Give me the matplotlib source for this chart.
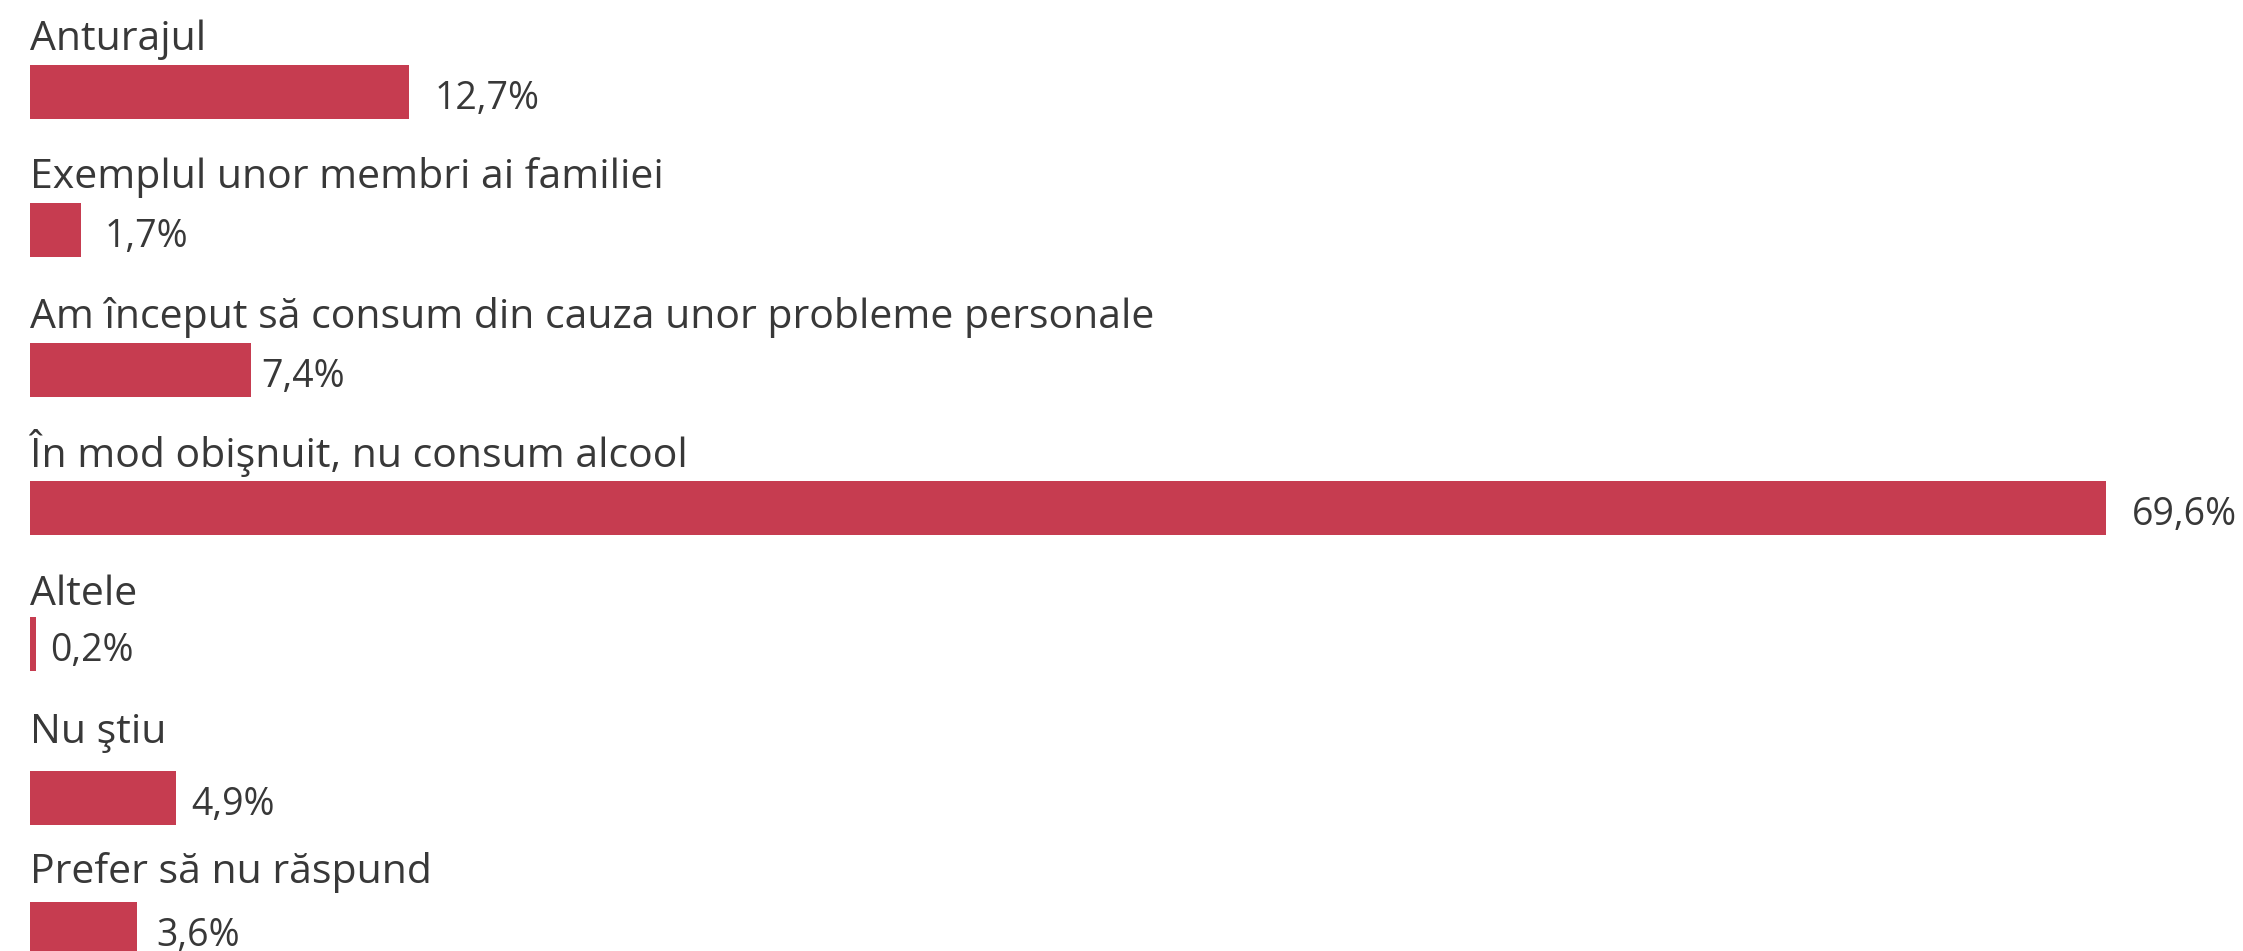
import matplotlib
matplotlib.use("Agg")
import matplotlib.pyplot as plt

# ---- data ----
categories = [
    "Anturajul",
    "Exemplul unor membri ai familiei",
    "Am început să consum din cauza unor probleme personale",
    "În mod obişnuit, nu consum alcool",
    "Altele",
    "Nu ştiu",
    "Prefer să nu răspund",
]
values = [12.7, 1.7, 7.4, 69.6, 0.2, 4.9, 3.6]
value_labels = ["12,7%", "1,7%", "7,4%", "69,6%", "0,2%", "4,9%", "3,6%"]

# ---- layout (pixels) ----
W, H = 2243, 951
x0_px = 30
px_per_unit = 29.83
bar_centers = [91.5, 230, 369.5, 508, 644, 798, 929]
label_baselines = [50, 188, 328, 467, 605, 743, 883]
value_pads = [26, 24, 11, 26, 14, 15, 19]
bar_height = 54

BAR_COLOR = "#C63C50"
TEXT_COLOR = "#383838"
FONT = ["Open Sans", "DejaVu Sans"]
FS_LABEL = 29.5
FS_VALUE = 27

fig = plt.figure(figsize=(W / 100, H / 100), dpi=100)
ax = fig.add_axes([0, 0, 1, 1])
ax.set_xlim(-x0_px / px_per_unit, (W - x0_px) / px_per_unit)
ax.set_ylim(H, 0)
ax.axis("off")

ax.barh(bar_centers, values, height=bar_height, left=0, color=BAR_COLOR)

for cat, val, vlab, yc, yb, pad in zip(categories, values, value_labels,
                                       bar_centers, label_baselines, value_pads):
    ax.text(0, yb, cat, fontsize=FS_LABEL, family=FONT, color=TEXT_COLOR,
            ha="left", va="baseline")
    ax.annotate(vlab, xy=(val, yc), xytext=(pad * 0.72, -17 * 0.72),
                textcoords="offset points", fontsize=FS_VALUE, family=FONT,
                color=TEXT_COLOR, ha="left", va="baseline")

fig.savefig("out.png", dpi=100, facecolor="white")
